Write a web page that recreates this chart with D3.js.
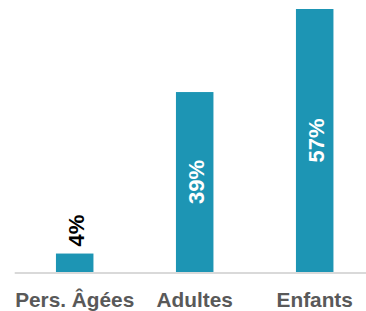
<!DOCTYPE html>
<html>
<head>
<meta charset="utf-8">
<script src="https://cdn.jsdelivr.net/npm/d3@7"></script>
<style>
  body { margin: 0; background: #fff; }
  svg { display: block; font-family: "Liberation Sans", Arial, sans-serif; }
</style>
</head>
<body>
<div id="chart"></div>
<script>
// chart data
const categories = ['Pers. Âgées', 'Adultes', 'Enfants'];
const values = [4, 39, 57];
const valueLabels = ['4%', '39%', '57%'];

const width = 366;
const height = 311;
const baseY = 272;

const svg = d3.select('#chart').append('svg')
  .attr('width', width)
  .attr('height', height);

const x = d3.scaleBand()
  .domain(categories)
  .range([14.7, 374.7])
  .paddingInner(0.6875)
  .paddingOuter(0.34375);

const y = d3.scaleLinear()
  .domain([0, 57])
  .range([baseY, 9]);

// bars
svg.selectAll('.bar')
  .data(values)
  .enter()
  .append('rect')
  .attr('class', 'bar')
  .attr('x', (d, i) => x(categories[i]))
  .attr('y', d => y(d))
  .attr('width', x.bandwidth())
  .attr('height', d => baseY - y(d))
  .attr('fill', '#1d95b4');

// baseline
svg.append('line')
  .attr('x1', 14.7)
  .attr('x2', width)
  .attr('y1', baseY + 1)
  .attr('y2', baseY + 1)
  .attr('stroke', '#d9d9d9')
  .attr('stroke-width', 2);

// category labels
svg.selectAll('.cat')
  .data(categories)
  .enter()
  .append('text')
  .attr('class', 'cat')
  .attr('x', d => x(d) + x.bandwidth() / 2)
  .attr('y', 306.5)
  .attr('text-anchor', 'middle')
  .attr('font-size', 20.8)
  .attr('font-weight', 'bold')
  .attr('fill', '#595959')
  .text(d => d);

// value labels, rotated; inside the bar when it fits
svg.selectAll('.val')
  .data(values)
  .enter()
  .append('text')
  .attr('class', 'val')
  .attr('transform', (d, i) => {
    const cx = x(categories[i]) + x.bandwidth() / 2 + 1;
    const inside = baseY - y(d) > 60;
    const cy = inside ? (y(d) + baseY) / 2 : y(d) - 7;
    return `translate(${cx},${cy})rotate(-90)`;
  })
  .attr('text-anchor', d => (baseY - y(d) > 60 ? 'middle' : 'start'))
  .attr('dy', '0.36em')
  .attr('font-size', 22)
  .attr('font-weight', 'bold')
  .attr('fill', d => (baseY - y(d) > 60 ? '#fff' : '#000'))
  .text((d, i) => valueLabels[i]);
</script>
</body>
</html>
